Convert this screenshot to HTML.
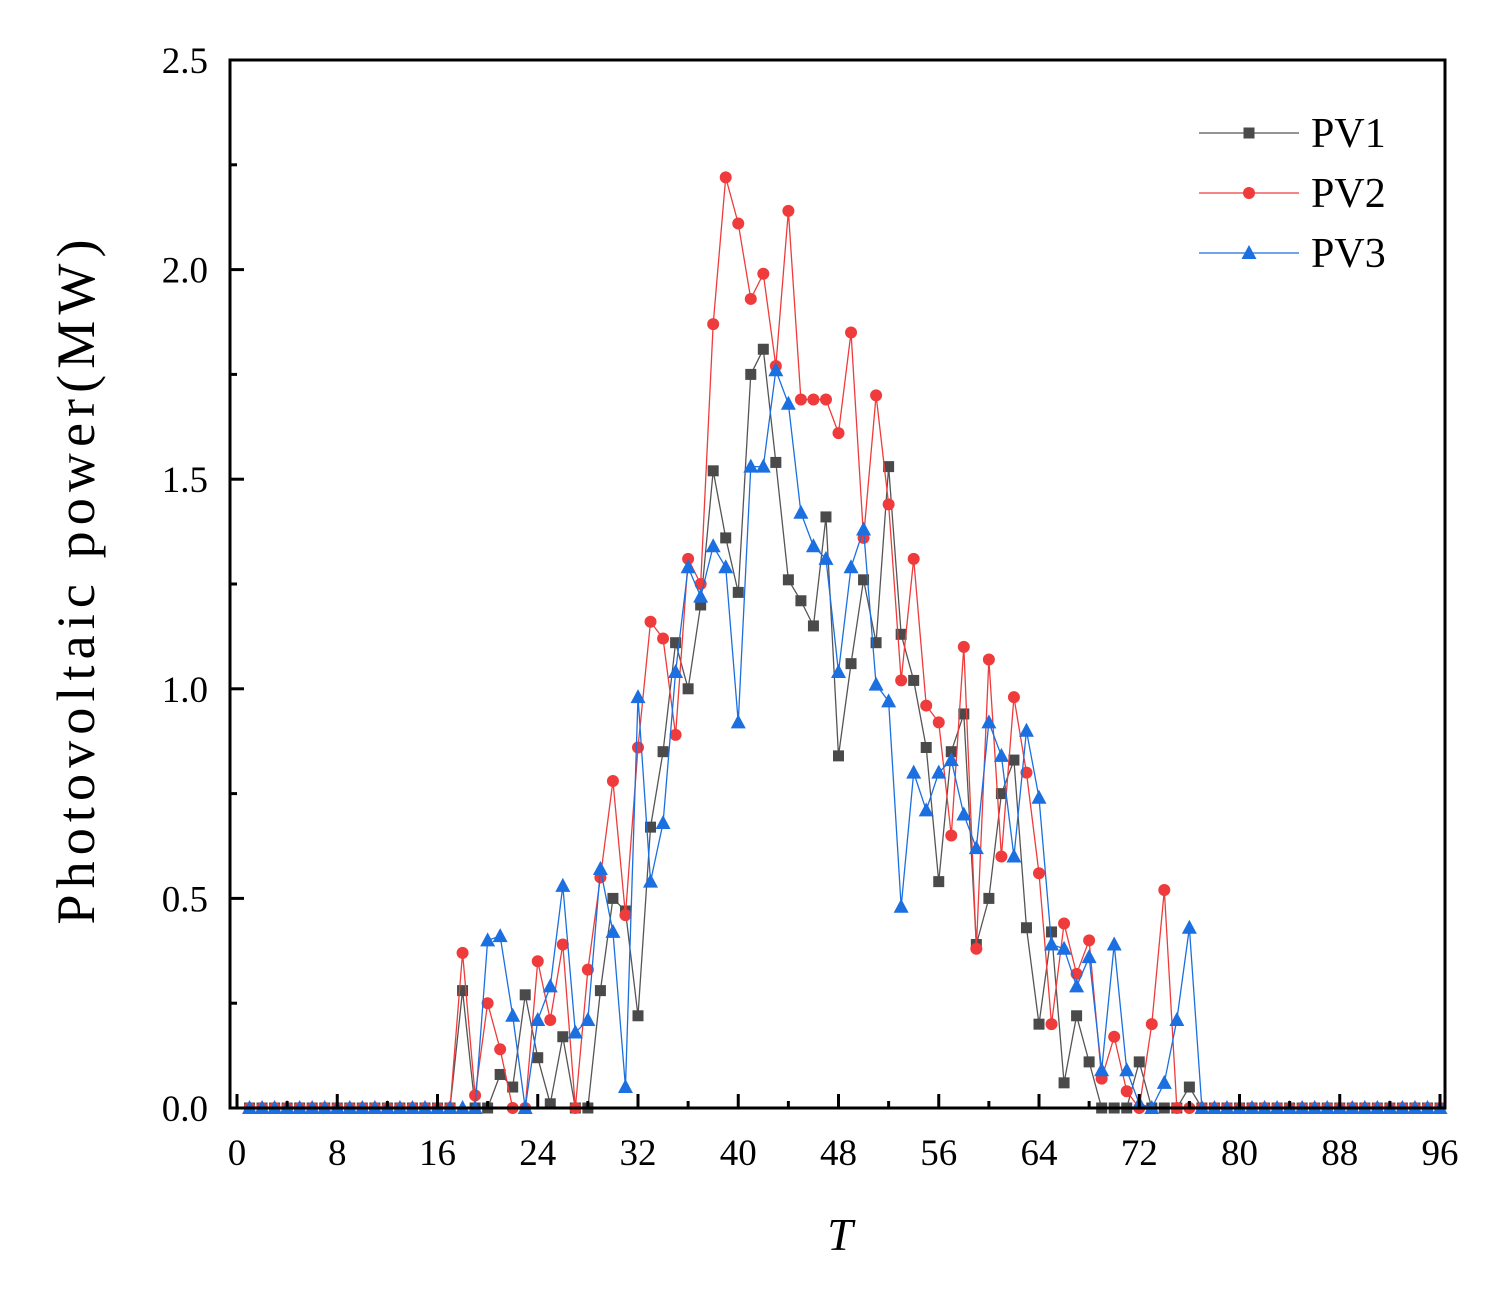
<!DOCTYPE html>
<html><head><meta charset="utf-8"><style>
html,body{margin:0;padding:0;background:#fff;}
svg{display:block;font-family:"Liberation Serif",serif;}
</style></head><body>
<svg id="chart" width="1500" height="1292" viewBox="0 0 1500 1292" xmlns="http://www.w3.org/2000/svg">
<g id="grid"></g>
<g id="series"></g>
<g id="axes"></g>
<g id="legend"></g>
</svg>
<script>
const T = Array.from({length:96},(_,i)=>i+1);
const pv1 = [0,0,0,0,0,0,0,0,0,0,0,0,0,0,0,0,0,0.28,0,0,0.08,0.05,0.27,0.12,0.01,0.17,0,0,0.28,0.50,0.47,0.22,0.67,0.85,1.11,1.00,1.20,1.52,1.36,1.23,1.75,1.81,1.54,1.26,1.21,1.15,1.41,0.84,1.06,1.26,1.11,1.53,1.13,1.02,0.86,0.54,0.85,0.94,0.39,0.50,0.75,0.83,0.43,0.20,0.42,0.06,0.22,0.11,0,0,0,0.11,0,0,0,0.05,0,0,0,0,0,0,0,0,0,0,0,0,0,0,0,0,0,0,0,0];
const pv2 = [0,0,0,0,0,0,0,0,0,0,0,0,0,0,0,0,0,0.37,0.03,0.25,0.14,0,0,0.35,0.21,0.39,0,0.33,0.55,0.78,0.46,0.86,1.16,1.12,0.89,1.31,1.25,1.87,2.22,2.11,1.93,1.99,1.77,2.14,1.69,1.69,1.69,1.61,1.85,1.36,1.70,1.44,1.02,1.31,0.96,0.92,0.65,1.10,0.38,1.07,0.60,0.98,0.80,0.56,0.20,0.44,0.32,0.40,0.07,0.17,0.04,0,0.20,0.52,0,0,0,0,0,0,0,0,0,0,0,0,0,0,0,0,0,0,0,0,0,0];
const pv3 = [0,0,0,0,0,0,0,0,0,0,0,0,0,0,0,0,0,0,0,0.40,0.41,0.22,0,0.21,0.29,0.53,0.18,0.21,0.57,0.42,0.05,0.98,0.54,0.68,1.04,1.29,1.22,1.34,1.29,0.92,1.53,1.53,1.76,1.68,1.42,1.34,1.31,1.04,1.29,1.38,1.01,0.97,0.48,0.80,0.71,0.80,0.83,0.70,0.62,0.92,0.84,0.60,0.90,0.74,0.39,0.38,0.29,0.36,0.09,0.39,0.09,0.01,0,0.06,0.21,0.43,0,0,0,0,0,0,0,0,0,0,0,0,0,0,0,0,0,0,0,0];
const xTicks = [0,8,16,24,32,40,48,56,64,72,80,88,96];
const yTicks = [0,0.5,1.0,1.5,2.0,2.5];
const yTickLabels = ["0.0","0.5","1.0","1.5","2.0","2.5"];
const seriesNames = ["PV1","PV2","PV3"];

const NS="http://www.w3.org/2000/svg";
const L=230,R=1445,TOP=60,B=1108;
const xs=v=>237+v*(1440-237)/96;
const ys=v=>B-v*(B-TOP)/2.5;
function mk(tag,attrs,parent){const e=document.createElementNS(NS,tag);for(const k in attrs)e.setAttribute(k,attrs[k]);parent.appendChild(e);return e;}

const axes=document.getElementById('axes');
const frame=mk('rect',{x:L,y:TOP,width:R-L,height:B-TOP,fill:'none',stroke:'#000','stroke-width':3},axes);


for(let v=0;v<=96;v+=4){
  const major=v%8===0;
  const t=mk('line',{x1:xs(v),x2:xs(v),y1:B,y2:B-(major?14:7),stroke:'#000','stroke-width':3},axes);
  
  
}
xTicks.forEach(v=>{
  const t=mk('text',{x:xs(v),y:1165,'font-size':37,'text-anchor':'middle',fill:'#000'},axes);
  t.textContent=v;
  
  
});
for(let v=0;v<=2.5001;v+=0.25){
  const major=Math.abs(v*2-Math.round(v*2))<1e-6;
  const t=mk('line',{x1:L,x2:L+(major?14:7),y1:ys(v),y2:ys(v),stroke:'#000','stroke-width':3},axes);
  
  
}
yTicks.forEach((v,i)=>{
  const t=mk('text',{x:208,y:ys(v)+13,'font-size':37,'text-anchor':'end',fill:'#000'},axes);
  t.textContent=yTickLabels[i];
  
  
});
const xt=mk('text',{x:840,y:1250,'font-size':46,'font-style':'italic','text-anchor':'middle'},axes);
xt.textContent='T';


const yt=mk('text',{x:0,y:0,'font-size':54,'text-anchor':'middle',textLength:685,lengthAdjust:'spacing',transform:'translate(94,582) rotate(-90)'},axes);
yt.textContent='Photovoltaic power(MW)';



const colors=['#4a4a4a','#ef3b3b','#1b6fe0'];
const lineColors=['#555','#ef3b3b','#1b6fe0'];
const data=[pv1,pv2,pv3];
const sg=document.getElementById('series');
function marker(k,cx,cy,parent){
  let m;
  if(k===0) m=mk('rect',{x:cx-5.5,y:cy-5.5,width:11,height:11,fill:colors[0]},parent);
  else if(k===1) m=mk('circle',{cx:cx,cy:cy,r:6,fill:colors[1]},parent);
  else m=mk('polygon',{points:`${cx},${cy-8} ${cx-7.5},${cy+6} ${cx+7.5},${cy+6}`,fill:colors[2]},parent);
  return m;
}
data.forEach((arr,k)=>{
  const g=mk('g',{},sg);
  
  
  const pts=arr.map((v,i)=>xs(T[i])+','+ys(v)).join(' ');
  const pl=mk('polyline',{points:pts,fill:'none',stroke:lineColors[k],'stroke-width':1.3},g);
  
  
  arr.forEach((v,i)=>{
    const m=marker(k,xs(T[i]),ys(v),g);
    
    
  });
});

const lg=document.getElementById('legend');
seriesNames.forEach((n,k)=>{
  const y=133+k*60;
  const g=mk('g',{},lg);
  
  
  mk('line',{x1:1199,x2:1299,y1:y,y2:y,stroke:lineColors[k],'stroke-width':1.3},g);
  marker(k,1249,y,g);
  const t=mk('text',{x:1311,y:y+14,'font-size':42},g);
  t.textContent=n;
});
</script>
</body></html>
